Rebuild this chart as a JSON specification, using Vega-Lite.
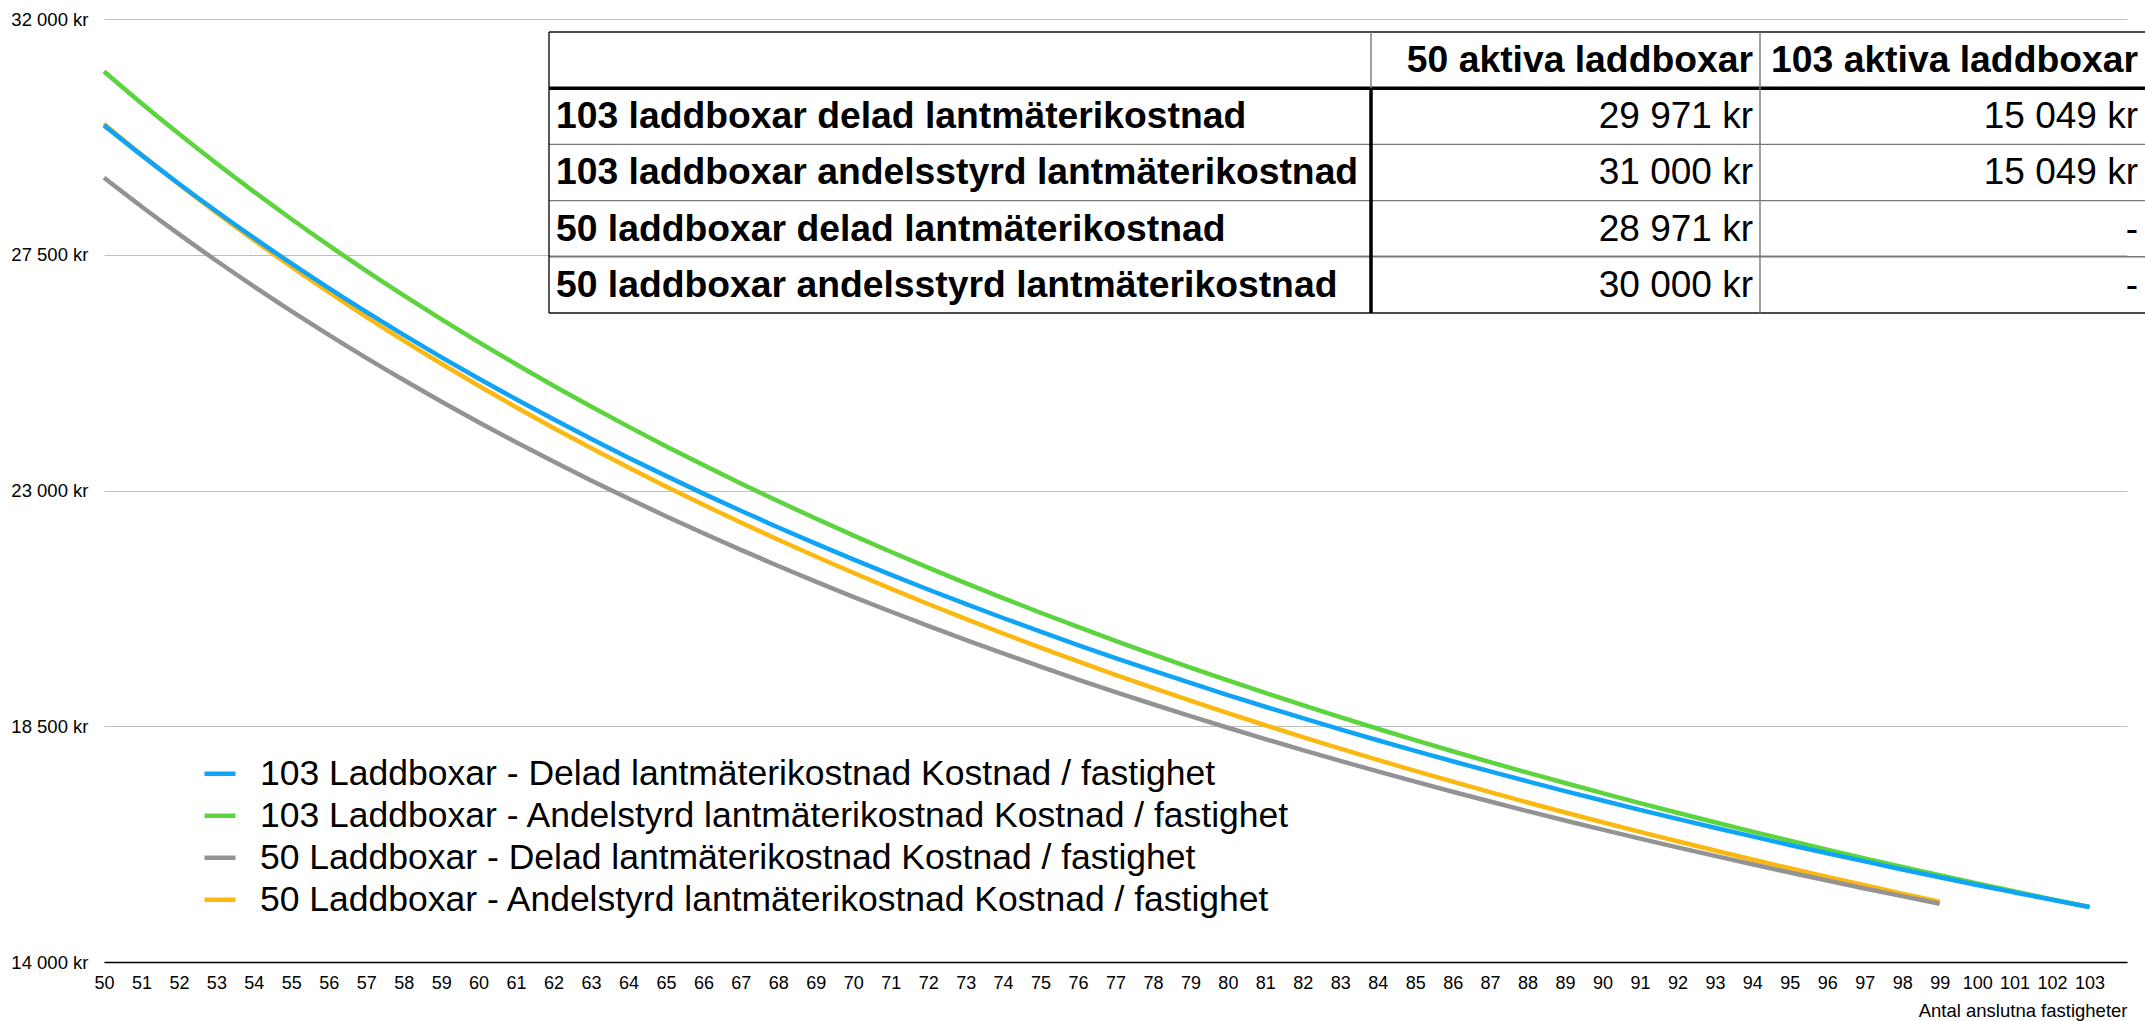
{
  "$schema": "https://vega.github.io/schema/vega-lite/v6.json",
  "width": 2023,
  "height": 943,
  "autosize": {"type": "none"},
  "padding": {"left": 104, "top": 19, "right": 18, "bottom": 59},
  "background": "white",
  "config": {"view": {"stroke": null}, "font": "Liberation Sans"},
  "layer": [
    {
      "data": {"values": [
        {"n":50,"s":"D","v":30000},{"n":51,"s":"D","v":29412},{"n":52,"s":"D","v":28846},{"n":53,"s":"D","v":28302},{"n":54,"s":"D","v":27778},{"n":55,"s":"D","v":27273},{"n":56,"s":"D","v":26786},{"n":57,"s":"D","v":26316},{"n":58,"s":"D","v":25862},{"n":59,"s":"D","v":25424},
        {"n":60,"s":"D","v":25000},{"n":61,"s":"D","v":24590},{"n":62,"s":"D","v":24194},{"n":63,"s":"D","v":23810},{"n":64,"s":"D","v":23438},{"n":65,"s":"D","v":23077},{"n":66,"s":"D","v":22727},{"n":67,"s":"D","v":22388},{"n":68,"s":"D","v":22059},{"n":69,"s":"D","v":21739},
        {"n":70,"s":"D","v":21429},{"n":71,"s":"D","v":21127},{"n":72,"s":"D","v":20833},{"n":73,"s":"D","v":20548},{"n":74,"s":"D","v":20270},{"n":75,"s":"D","v":20000},{"n":76,"s":"D","v":19737},{"n":77,"s":"D","v":19481},{"n":78,"s":"D","v":19231},{"n":79,"s":"D","v":18987},
        {"n":80,"s":"D","v":18750},{"n":81,"s":"D","v":18519},{"n":82,"s":"D","v":18293},{"n":83,"s":"D","v":18072},{"n":84,"s":"D","v":17857},{"n":85,"s":"D","v":17647},{"n":86,"s":"D","v":17442},{"n":87,"s":"D","v":17241},{"n":88,"s":"D","v":17045},{"n":89,"s":"D","v":16854},
        {"n":90,"s":"D","v":16667},{"n":91,"s":"D","v":16484},{"n":92,"s":"D","v":16304},{"n":93,"s":"D","v":16129},{"n":94,"s":"D","v":15957},{"n":95,"s":"D","v":15789},{"n":96,"s":"D","v":15625},{"n":97,"s":"D","v":15464},{"n":98,"s":"D","v":15306},{"n":99,"s":"D","v":15152},
        {"n":50,"s":"C","v":28971},{"n":51,"s":"C","v":28422},{"n":52,"s":"C","v":27894},{"n":53,"s":"C","v":27386},{"n":54,"s":"C","v":26897},{"n":55,"s":"C","v":26426},{"n":56,"s":"C","v":25971},{"n":57,"s":"C","v":25532},{"n":58,"s":"C","v":25109},{"n":59,"s":"C","v":24700},
        {"n":60,"s":"C","v":24304},{"n":61,"s":"C","v":23922},{"n":62,"s":"C","v":23552},{"n":63,"s":"C","v":23193},{"n":64,"s":"C","v":22846},{"n":65,"s":"C","v":22510},{"n":66,"s":"C","v":22183},{"n":67,"s":"C","v":21867},{"n":68,"s":"C","v":21559},{"n":69,"s":"C","v":21261},
        {"n":70,"s":"C","v":20971},{"n":71,"s":"C","v":20690},{"n":72,"s":"C","v":20416},{"n":73,"s":"C","v":20149},{"n":74,"s":"C","v":19890},{"n":75,"s":"C","v":19638},{"n":76,"s":"C","v":19392},{"n":77,"s":"C","v":19153},{"n":78,"s":"C","v":18920},{"n":79,"s":"C","v":18693},
        {"n":80,"s":"C","v":18471},{"n":81,"s":"C","v":18255},{"n":82,"s":"C","v":18044},{"n":83,"s":"C","v":17839},{"n":84,"s":"C","v":17638},{"n":85,"s":"C","v":17442},{"n":86,"s":"C","v":17250},{"n":87,"s":"C","v":17063},{"n":88,"s":"C","v":16880},{"n":89,"s":"C","v":16702},
        {"n":90,"s":"C","v":16527},{"n":91,"s":"C","v":16356},{"n":92,"s":"C","v":16189},{"n":93,"s":"C","v":16025},{"n":94,"s":"C","v":15865},{"n":95,"s":"C","v":15708},{"n":96,"s":"C","v":15555},{"n":97,"s":"C","v":15404},{"n":98,"s":"C","v":15257},{"n":99,"s":"C","v":15113},
        {"n":50,"s":"B","v":31000},{"n":51,"s":"B","v":30392},{"n":52,"s":"B","v":29808},{"n":53,"s":"B","v":29245},{"n":54,"s":"B","v":28704},{"n":55,"s":"B","v":28182},{"n":56,"s":"B","v":27679},{"n":57,"s":"B","v":27193},{"n":58,"s":"B","v":26724},{"n":59,"s":"B","v":26271},
        {"n":60,"s":"B","v":25833},{"n":61,"s":"B","v":25410},{"n":62,"s":"B","v":25000},{"n":63,"s":"B","v":24603},{"n":64,"s":"B","v":24219},{"n":65,"s":"B","v":23846},{"n":66,"s":"B","v":23485},{"n":67,"s":"B","v":23134},{"n":68,"s":"B","v":22794},{"n":69,"s":"B","v":22464},
        {"n":70,"s":"B","v":22143},{"n":71,"s":"B","v":21831},{"n":72,"s":"B","v":21528},{"n":73,"s":"B","v":21233},{"n":74,"s":"B","v":20946},{"n":75,"s":"B","v":20667},{"n":76,"s":"B","v":20395},{"n":77,"s":"B","v":20130},{"n":78,"s":"B","v":19872},{"n":79,"s":"B","v":19620},
        {"n":80,"s":"B","v":19375},{"n":81,"s":"B","v":19136},{"n":82,"s":"B","v":18902},{"n":83,"s":"B","v":18675},{"n":84,"s":"B","v":18452},{"n":85,"s":"B","v":18235},{"n":86,"s":"B","v":18023},{"n":87,"s":"B","v":17816},{"n":88,"s":"B","v":17614},{"n":89,"s":"B","v":17416},
        {"n":90,"s":"B","v":17222},{"n":91,"s":"B","v":17033},{"n":92,"s":"B","v":16848},{"n":93,"s":"B","v":16667},{"n":94,"s":"B","v":16489},{"n":95,"s":"B","v":16316},{"n":96,"s":"B","v":16146},{"n":97,"s":"B","v":15979},{"n":98,"s":"B","v":15816},{"n":99,"s":"B","v":15657},
        {"n":100,"s":"B","v":15500},{"n":101,"s":"B","v":15347},{"n":102,"s":"B","v":15196},{"n":103,"s":"B","v":15049},
        {"n":50,"s":"A","v":29971},{"n":51,"s":"A","v":29402},{"n":52,"s":"A","v":28856},{"n":53,"s":"A","v":28330},{"n":54,"s":"A","v":27823},{"n":55,"s":"A","v":27335},{"n":56,"s":"A","v":26864},{"n":57,"s":"A","v":26410},{"n":58,"s":"A","v":25971},{"n":59,"s":"A","v":25547},
        {"n":60,"s":"A","v":25138},{"n":61,"s":"A","v":24742},{"n":62,"s":"A","v":24358},{"n":63,"s":"A","v":23987},{"n":64,"s":"A","v":23627},{"n":65,"s":"A","v":23279},{"n":66,"s":"A","v":22941},{"n":67,"s":"A","v":22613},{"n":68,"s":"A","v":22295},{"n":69,"s":"A","v":21986},
        {"n":70,"s":"A","v":21685},{"n":71,"s":"A","v":21394},{"n":72,"s":"A","v":21110},{"n":73,"s":"A","v":20834},{"n":74,"s":"A","v":20566},{"n":75,"s":"A","v":20305},{"n":76,"s":"A","v":20050},{"n":77,"s":"A","v":19802},{"n":78,"s":"A","v":19561},{"n":79,"s":"A","v":19326},
        {"n":80,"s":"A","v":19096},{"n":81,"s":"A","v":18872},{"n":82,"s":"A","v":18654},{"n":83,"s":"A","v":18441},{"n":84,"s":"A","v":18233},{"n":85,"s":"A","v":18030},{"n":86,"s":"A","v":17832},{"n":87,"s":"A","v":17638},{"n":88,"s":"A","v":17449},{"n":89,"s":"A","v":17263},
        {"n":90,"s":"A","v":17082},{"n":91,"s":"A","v":16905},{"n":92,"s":"A","v":16732},{"n":93,"s":"A","v":16563},{"n":94,"s":"A","v":16397},{"n":95,"s":"A","v":16234},{"n":96,"s":"A","v":16075},{"n":97,"s":"A","v":15920},{"n":98,"s":"A","v":15767},{"n":99,"s":"A","v":15618},
        {"n":100,"s":"A","v":15471},{"n":101,"s":"A","v":15328},{"n":102,"s":"A","v":15187},{"n":103,"s":"A","v":15049}
      ]},
      "mark": {"type": "line", "strokeWidth": 4.5, "interpolate": "monotone"},
      "encoding": {
        "x": {
          "field": "n", "type": "quantitative",
          "scale": {"domain": [50, 104], "nice": false, "zero": false},
          "axis": {
            "values": [50,51,52,53,54,55,56,57,58,59,60,61,62,63,64,65,66,67,68,69,70,71,72,73,74,75,76,77,78,79,80,81,82,83,84,85,86,87,88,89,90,91,92,93,94,95,96,97,98,99,100,101,102,103],
            "format": "d", "title": "Antal anslutna fastigheter",
            "labelFontSize": 18, "labelColor": "#000000", "labelPadding": 12,
            "ticks": false, "tickSize": 0, "grid": false,
            "domainColor": "#000000", "domainWidth": 1.5,
            "labelOverlap": false, "labelFlush": false,
            "titleFontSize": 18.5, "titleFontWeight": "normal", "titleColor": "#000000",
            "titleAnchor": "end", "titleAlign": "right", "titleX": 2023, "titleY": 54, "titleBaseline": "alphabetic"
          }
        },
        "y": {
          "field": "v", "type": "quantitative",
          "scale": {"domain": [14000, 32000], "nice": false, "zero": false},
          "axis": {
            "values": [14000, 18500, 23000, 27500, 32000],
            "title": null, "domain": false, "ticks": false, "tickSize": 0,
            "labelPadding": 16, "labelFontSize": 18.5, "labelColor": "#000000",
            "gridColor": "#bdbdbd", "gridWidth": 1.2,
            "labelExpr": "replace(format(datum.value, ','), ',', ' ') + ' kr'"
          }
        },
        "color": {
          "field": "s", "type": "nominal",
          "scale": {"domain": ["A", "B", "C", "D"], "range": ["#10a4f6", "#5bd43d", "#939393", "#fbb811"]},
          "legend": {
            "orient": "none", "legendX": 98, "legendY": 734, "title": null,
            "symbolType": "stroke", "symbolSize": 961, "symbolStrokeWidth": 4.5,
            "labelFontSize": 35.5, "labelColor": "#000000", "labelOffset": 22, "labelLimit": 3000,
            "clipHeight": 41.5, "rowPadding": 0, "padding": 0,
            "labelExpr": "datum.value == 'A' ? '103 Laddboxar - Delad lantmäterikostnad Kostnad / fastighet' : datum.value == 'B' ? '103 Laddboxar - Andelstyrd lantmäterikostnad Kostnad / fastighet' : datum.value == 'C' ? '50 Laddboxar - Delad lantmäterikostnad Kostnad / fastighet' : '50 Laddboxar - Andelstyrd lantmäterikostnad Kostnad / fastighet'"
          }
        }
      }
    },
    {
      "data": {"values": [
        {"row": "h", "col": 2, "t": "50 aktiva laddboxar"},
        {"row": "h", "col": 3, "t": "103 aktiva laddboxar"},
        {"row": "r1", "col": 1, "t": "103 laddboxar delad lantmäterikostnad"},
        {"row": "r1", "col": 2, "t": "29 971 kr"},
        {"row": "r1", "col": 3, "t": "15 049 kr"},
        {"row": "r2", "col": 1, "t": "103 laddboxar andelsstyrd lantmäterikostnad"},
        {"row": "r2", "col": 2, "t": "31 000 kr"},
        {"row": "r2", "col": 3, "t": "15 049 kr"},
        {"row": "r3", "col": 1, "t": "50 laddboxar delad lantmäterikostnad"},
        {"row": "r3", "col": 2, "t": "28 971 kr"},
        {"row": "r3", "col": 3, "t": "-"},
        {"row": "r4", "col": 1, "t": "50 laddboxar andelsstyrd lantmäterikostnad"},
        {"row": "r4", "col": 2, "t": "30 000 kr"},
        {"row": "r4", "col": 3, "t": "-"}
      ]},
      "encoding": {
        "y": {"field": "row", "type": "nominal", "axis": null,
              "scale": {"type": "point", "domain": ["h", "r1", "r2", "r3", "r4", "end"], "range": [13, 294], "padding": 0}},
        "x": {"field": "col", "type": "quantitative", "axis": null,
              "scale": {"type": "linear", "domain": [0, 1, 2, 3], "range": [445, 1267, 1656, 2041], "nice": false, "zero": false}}
      },
      "layer": [
        {
          "transform": [{"filter": "datum.row == 'h'"}],
          "mark": {"type": "text", "align": "right", "baseline": "middle", "dx": -7, "dy": 29, "fontSize": 37.3, "fontWeight": "bold", "color": "#000000"},
          "encoding": {"text": {"field": "t"}}
        },
        {
          "transform": [{"filter": "datum.col == 1"}],
          "mark": {"type": "text", "align": "left", "baseline": "middle", "dx": 7, "dy": 29, "fontSize": 37.3, "fontWeight": "bold", "color": "#000000"},
          "encoding": {"x": {"datum": 0, "type": "quantitative"}, "text": {"field": "t"}}
        },
        {
          "transform": [{"filter": "datum.row != 'h' && datum.col > 1"}],
          "mark": {"type": "text", "align": "right", "baseline": "middle", "dx": -7, "dy": 29, "fontSize": 37, "fontWeight": "normal", "color": "#000000"},
          "encoding": {"text": {"field": "t"}}
        },
        {
          "data": {"values": [{"row": "h", "from": 0, "to": 3}, {"row": "end", "from": 0, "to": 3}]},
          "mark": {"type": "rule", "color": "#111111", "strokeWidth": 1.4},
          "encoding": {"y": {"field": "row", "type": "nominal"}, "x": {"field": "from", "type": "quantitative"}, "x2": {"field": "to"}}
        },
        {
          "data": {"values": [{"row": "r2", "from": 0, "to": 3}, {"row": "r3", "from": 0, "to": 3}, {"row": "r4", "from": 0, "to": 3}]},
          "mark": {"type": "rule", "color": "#777777", "strokeWidth": 1.4},
          "encoding": {"y": {"field": "row", "type": "nominal"}, "x": {"field": "from", "type": "quantitative"}, "x2": {"field": "to"}}
        },
        {
          "data": {"values": [{"row": "r1", "from": 0, "to": 3}]},
          "mark": {"type": "rule", "color": "#000000", "strokeWidth": 3.5},
          "encoding": {"y": {"field": "row", "type": "nominal"}, "x": {"field": "from", "type": "quantitative"}, "x2": {"field": "to"}}
        },
        {
          "data": {"values": [{"e": 0}]},
          "mark": {"type": "rule", "color": "#111111", "strokeWidth": 1.4},
          "encoding": {"x": {"field": "e", "type": "quantitative"}, "y": {"datum": "h", "type": "nominal"}, "y2": {"datum": "end"}}
        },
        {
          "data": {"values": [{"e": 1}, {"e": 2}]},
          "mark": {"type": "rule", "color": "#777777", "strokeWidth": 1.4},
          "encoding": {"x": {"field": "e", "type": "quantitative"}, "y": {"datum": "h", "type": "nominal"}, "y2": {"datum": "end"}}
        },
        {
          "data": {"values": [{"e": 1}]},
          "mark": {"type": "rule", "color": "#000000", "strokeWidth": 3.5},
          "encoding": {"x": {"field": "e", "type": "quantitative"}, "y": {"datum": "r1", "type": "nominal"}, "y2": {"datum": "end"}}
        }
      ]
    }
  ],
  "resolve": {"scale": {"x": "independent", "y": "independent"}}
}
